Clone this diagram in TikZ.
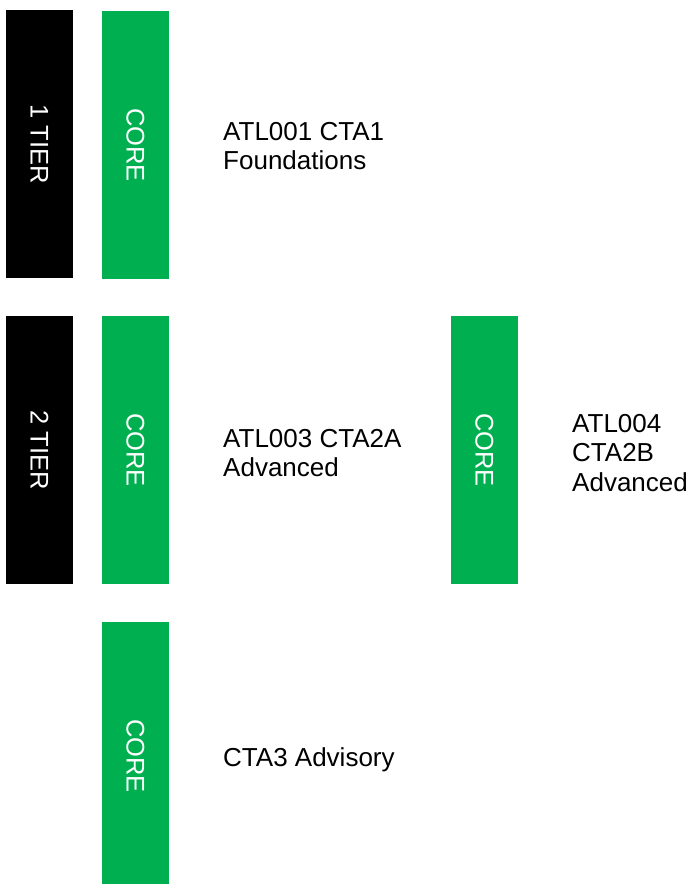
\documentclass[tikz,border=0pt]{standalone}
\usepackage{fontspec}
\setmainfont{Liberation Sans}
\definecolor{coregreen}{HTML}{00B050}
\begin{document}
\begin{tikzpicture}[x=1pt,y=-1pt,
  bar/.style={rotate=-90,minimum width=268pt,minimum height=67pt,inner sep=0pt,text=white,
    font=\fontsize{25.5}{29}\selectfont},
  tierbar/.style={bar,fill=black},
  corebar/.style={bar,fill=coregreen},
  lbl/.style={anchor=west,align=left,inner sep=0pt,font=\fontsize{26}{29.5}\selectfont}]
\useasboundingbox (0,0) rectangle (693,884);
\clip (0,0) rectangle (693,884);
\node[tierbar] (t1) at (39.5,144) {1 TIER};
\node[corebar] (c1) at (135.5,145) {CORE};
\node[lbl] (l1) at (223,146) {ATL001 CTA1\\Foundations};
\node[tierbar] (t2) at (39.5,450) {2 TIER};
\node[corebar] (c2) at (135.5,450) {CORE};
\node[lbl] (l2) at (223,453) {ATL003 CTA2A\\Advanced};
\node[corebar] (c2b) at (484.5,450) {CORE};
\node[lbl] (l2b) at (572,453) {ATL004\\CTA2B\\Advanced};
\node[corebar] (c3) at (135.5,756) {CORE};
\node[lbl,anchor=base west] (l3) at (223,766) {CTA3 Advisory};
\end{tikzpicture}
\end{document}
